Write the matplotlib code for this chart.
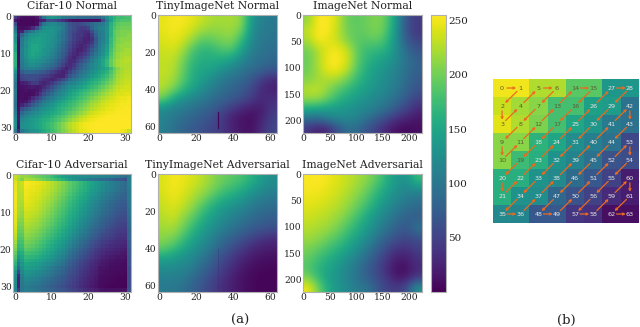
import matplotlib
matplotlib.use('Agg')
import matplotlib.pyplot as plt
import numpy as np

W, H = 640, 327

# --- 1. The Data (0-255) ---
cifar_normal = [
    [40,20,10,8,8,8,15,50,95,125,135,130,120,105,100,95,95,90,90,90,85,85,80,85,100,125,150,165,175,175,180,180],
    [15,8,5,5,5,5,8,20,25,60,60,55,45,35,25,15,10,10,10,10,10,10,10,12,60,110,145,170,180,185,185,185],
    [60,5,5,5,5,5,10,60,100,115,120,120,110,100,85,65,60,55,60,65,75,85,95,100,105,125,160,180,190,195,195,195],
    [90,10,8,10,15,30,60,100,125,130,130,125,120,105,85,70,60,50,45,45,55,80,100,110,115,130,165,185,195,200,200,200],
    [110,15,25,70,90,105,120,130,135,135,135,125,115,100,85,65,55,45,40,35,35,60,90,105,110,130,165,190,200,205,205,205],
    [130,20,80,110,125,130,135,140,140,135,130,125,110,95,80,65,50,40,40,30,25,45,80,100,110,130,165,190,200,205,205,210],
    [130,15,100,120,135,140,145,145,140,135,130,120,110,95,80,65,50,40,35,25,25,35,70,100,110,130,170,190,205,210,210,210],
    [140,10,105,125,140,145,145,145,140,135,125,120,105,90,75,60,45,35,30,25,30,40,75,100,115,135,170,195,205,210,215,215],
    [150,10,105,125,140,150,150,145,140,130,125,115,100,85,70,55,40,30,25,30,40,55,80,105,120,140,175,195,210,215,215,215],
    [150,10,110,130,145,150,150,145,135,130,120,110,95,80,65,50,35,25,25,35,50,70,90,110,125,145,180,200,210,215,220,220],
    [165,10,110,130,145,150,145,140,135,125,115,105,90,75,60,40,30,25,35,45,60,80,100,115,130,150,185,205,215,220,222,222],
    [165,12,110,125,140,145,140,135,125,120,110,100,85,70,50,35,25,35,45,60,75,95,110,125,140,160,190,205,215,222,225,225],
    [165,12,105,120,135,135,130,125,120,110,100,90,75,60,45,30,30,45,60,75,90,105,120,135,150,170,195,210,220,225,228,228],
    [165,12,100,115,125,125,120,115,105,100,90,80,65,50,35,30,40,60,75,90,105,115,125,135,150,170,195,210,220,225,225,225],
    [150,15,95,105,110,110,105,100,95,85,75,65,50,35,25,35,50,65,80,95,105,115,125,135,145,155,175,195,210,220,225,225],
    [130,15,75,85,85,85,80,75,70,60,50,40,30,25,30,50,65,80,95,105,115,125,135,145,155,165,185,200,215,222,228,228],
    [115,12,55,60,60,60,60,55,50,45,35,28,25,25,45,65,80,92,105,115,125,135,145,155,165,175,190,205,218,225,230,230],
    [110,10,50,55,60,60,55,45,35,30,25,30,40,55,70,90,100,110,118,128,138,148,158,165,175,185,198,210,222,228,232,232],
    [100,8,20,25,35,45,45,30,25,30,40,55,70,85,100,110,115,125,132,142,150,160,168,175,185,195,205,215,225,230,235,235],
    [100,8,12,15,18,20,18,20,30,45,60,75,90,105,115,125,130,138,145,155,162,170,178,188,195,205,215,225,230,235,238,238],
    [105,5,10,12,10,12,15,25,45,60,75,90,105,115,125,135,145,152,160,168,175,182,190,198,205,215,222,230,235,240,240,240],
    [105,5,10,8,8,10,20,40,60,75,90,105,115,125,135,145,155,162,170,178,185,192,200,208,215,222,230,235,240,242,245,245],
    [100,5,10,8,15,30,45,60,80,95,105,115,125,135,145,155,162,170,178,186,194,202,210,217,224,230,236,240,245,248,248,250],
    [95,8,12,15,30,50,70,85,100,110,120,130,140,150,158,165,172,180,188,196,204,212,218,225,232,238,242,245,248,250,250,252],
    [95,8,25,40,55,75,90,105,115,125,132,142,152,160,166,172,180,188,196,204,212,220,226,232,238,242,246,248,250,252,252,252],
    [100,12,60,75,85,100,110,120,128,135,142,150,160,168,175,180,188,196,204,212,220,226,232,238,242,246,248,250,252,252,254,254],
    [110,15,85,100,110,118,125,132,140,146,152,158,165,175,182,190,198,206,214,222,230,236,240,244,248,250,252,252,254,254,254,254],
    [118,18,105,115,125,130,135,142,150,155,162,170,178,186,194,202,210,218,226,234,240,244,248,250,252,254,254,255,255,255,255,255],
    [125,18,118,125,132,138,145,150,158,163,170,178,186,195,204,212,220,228,236,242,246,250,252,254,254,255,255,255,255,255,255,255],
    [130,15,125,130,135,140,148,155,162,170,178,188,198,208,218,226,234,240,246,250,252,254,255,255,255,255,255,255,255,255,255,255],
    [125,12,125,130,135,140,148,155,162,170,178,188,198,208,218,226,234,240,246,250,252,254,255,255,255,255,255,255,255,255,255,255],
    [105,30,100,115,125,130,135,145,155,165,175,185,195,205,212,222,230,238,245,248,250,252,254,255,255,255,255,255,255,250,245,235],
]
cifar_adv = [
    [235,225,215,215,210,205,200,195,190,185,175,165,155,145,140,135,130,128,125,125,122,120,118,116,115,112,110,108,105,95,90,105],
    [235,220,205,225,222,218,210,205,200,192,185,178,170,162,150,140,130,125,118,112,105,100,95,92,90,85,80,75,70,68,60,110],
    [245,228,235,254,252,250,248,245,240,235,228,222,215,208,200,192,185,178,170,162,155,148,140,132,125,118,110,105,100,95,90,110],
    [248,228,232,252,250,248,245,242,238,232,226,220,212,205,198,190,182,175,168,160,152,145,138,130,122,115,110,104,98,92,88,110],
    [248,226,230,250,248,246,243,240,235,230,224,218,210,203,196,188,180,172,165,158,150,142,135,128,120,112,107,101,95,90,86,105],
    [250,226,228,250,247,244,241,237,232,227,221,214,206,199,191,183,175,167,160,152,144,136,129,122,114,107,101,95,90,85,82,105],
    [250,225,226,248,245,242,238,234,229,223,217,210,202,194,186,178,170,162,155,147,139,131,124,116,108,101,95,90,85,80,78,105],
    [250,225,224,246,243,240,236,232,226,220,214,206,198,190,182,174,166,158,150,142,134,126,118,110,103,96,90,85,80,76,74,100],
    [250,224,222,244,241,238,234,229,223,217,210,202,194,186,178,170,162,154,146,138,130,122,114,106,98,92,86,81,76,72,70,100],
    [248,222,218,240,238,235,231,226,220,213,206,198,190,182,174,166,158,150,142,134,126,118,110,102,94,88,82,77,72,68,66,95],
    [248,220,214,236,234,231,227,222,216,209,202,194,186,178,170,162,154,146,138,130,122,114,106,98,90,84,78,73,68,64,62,95],
    [246,216,212,234,232,228,224,218,212,205,198,190,182,174,166,158,150,142,133,125,117,109,101,93,86,80,74,69,64,60,58,90],
    [245,210,208,230,228,224,220,214,208,201,194,186,178,170,162,154,146,137,128,120,112,104,96,88,81,75,69,64,59,56,54,90],
    [245,205,204,226,224,220,216,210,204,197,190,182,174,166,158,150,141,132,123,115,107,99,91,83,76,70,64,59,54,52,50,85],
    [240,200,200,222,220,216,212,206,200,192,185,177,169,161,153,145,136,127,118,110,102,94,86,78,71,65,59,54,50,48,46,85],
    [238,195,196,218,216,212,207,201,195,187,180,172,164,156,148,140,130,121,112,104,96,88,80,72,65,59,54,50,46,44,42,80],
    [232,190,190,213,210,206,201,195,189,181,174,166,158,150,142,134,124,115,106,98,90,82,74,66,59,54,49,45,41,39,38,80],
    [228,185,185,208,205,201,196,190,183,175,168,160,152,144,136,127,117,108,99,91,83,75,67,59,53,48,44,40,37,35,34,80],
    [220,178,180,203,200,196,190,184,177,169,162,154,146,138,129,120,110,101,92,84,76,68,60,52,47,42,38,35,32,30,29,75],
    [212,170,175,197,194,190,184,178,171,163,156,148,140,132,122,113,103,94,85,77,69,61,53,46,41,36,33,30,28,26,25,75],
    [205,165,168,190,187,183,178,172,165,157,150,142,134,125,116,106,96,87,78,70,62,54,47,40,35,30,28,26,24,22,20,70],
    [195,150,158,180,178,174,170,164,157,150,143,135,127,118,108,98,88,79,71,63,55,48,41,34,30,26,23,21,19,17,16,70],
    [185,135,150,170,168,165,161,155,149,142,135,127,119,110,100,90,81,72,64,56,49,42,36,30,25,21,18,16,14,13,12,65],
    [175,120,142,160,158,155,151,146,140,133,126,118,110,101,92,83,74,66,58,50,44,37,31,25,20,17,14,12,11,10,9,65],
    [165,105,135,150,148,145,141,136,130,124,116,109,101,93,84,76,68,60,52,45,39,33,27,21,17,14,11,10,9,8,7,65],
    [150,85,125,145,142,138,133,128,122,115,105,98,92,85,77,70,62,55,47,40,35,29,24,15,13,11,9,8,8,7,6,60],
    [135,55,118,135,132,128,124,119,114,108,100,93,87,80,72,65,58,51,43,37,32,26,21,13,11,9,8,7,6,6,5,60],
    [128,30,110,128,125,121,117,112,107,101,95,88,82,75,68,61,54,47,40,34,29,24,19,11,9,8,7,6,5,5,4,60],
    [125,25,105,120,117,113,109,104,99,94,88,82,76,70,64,57,50,44,37,31,26,22,17,10,8,7,6,5,4,4,3,60],
    [125,25,102,112,110,106,102,98,93,88,82,77,71,65,59,53,47,41,35,29,24,20,15,9,7,6,5,4,3,3,3,60],
    [120,25,100,105,103,99,95,91,87,82,75,71,66,60,55,50,44,38,32,27,22,18,14,8,6,5,4,3,3,3,2,60],
    [115,40,100,110,106,102,98,94,90,86,80,75,70,65,60,55,50,44,38,33,28,24,20,15,12,10,10,10,10,10,10,65],
]
tiny_normal = [
    [245,252,252,245,232,222,220,222,212,130,112,105],
    [245,252,248,235,218,212,215,218,200,125,108,100],
    [240,248,238,215,190,195,205,208,170,118,102,98],
    [235,240,222,185,165,170,185,185,145,110,98,92],
    [230,232,205,170,158,158,155,145,120,100,92,85],
    [232,228,198,160,150,145,130,115,100,90,82,72],
    [230,222,190,158,142,125,105,95,85,70,45,30],
    [225,205,172,145,125,108,92,82,72,55,28,22],
    [200,155,130,118,105,92,82,72,60,45,30,35],
    [125,112,105,95,85,75,60,42,28,18,18,42],
    [115,102,92,82,72,60,42,20,12,8,25,50],
    [112,95,82,72,62,52,42,25,15,10,35,55],
]
tiny_adv = [
    [240,252,248,240,228,212,198,190,180,160,140,125],
    [240,252,245,232,220,205,185,172,158,140,125,115],
    [235,248,238,222,205,180,160,148,135,118,105,100],
    [230,242,228,210,180,155,138,125,115,102,92,88],
    [225,235,212,190,160,142,125,110,100,88,80,75],
    [218,222,200,170,145,128,110,98,85,75,68,62],
    [210,205,180,150,130,112,92,78,65,52,40,32],
    [195,178,155,135,118,98,78,60,45,30,22,20],
    [150,142,130,120,100,80,60,42,28,18,12,10],
    [125,122,118,105,88,68,48,32,18,10,6,5],
    [110,112,105,90,72,55,38,22,12,6,3,3],
    [105,102,95,80,65,48,32,22,12,6,3,5],
]
imagenet_normal = [
    [210,255,255,235,195,190,198,208,190,130,60,45],
    [230,255,255,232,198,192,198,208,185,125,60,40],
    [222,255,245,232,205,188,190,195,172,122,70,50],
    [200,225,245,252,232,190,172,170,158,122,85,65],
    [195,222,252,255,240,192,165,152,140,120,95,78],
    [198,222,248,252,228,185,155,140,128,112,92,78],
    [205,218,225,222,200,170,150,135,122,108,88,72],
    [228,232,212,190,172,155,140,128,118,102,82,65],
    [215,218,195,170,152,138,128,118,105,90,70,50],
    [160,152,145,138,132,125,115,105,90,70,50,30],
    [95,90,110,122,122,112,95,75,55,35,25,15],
    [40,22,28,65,92,88,65,45,25,10,5,10],
]
imagenet_adv = [
    [252,255,250,242,232,222,210,190,160,135,130,175],
    [252,252,245,238,228,215,198,172,148,128,118,125],
    [248,245,240,232,220,205,185,158,135,118,105,98],
    [242,238,232,225,212,192,168,142,122,105,92,85],
    [235,230,225,215,198,175,150,128,108,90,78,75],
    [228,222,215,202,182,160,138,115,95,78,68,100],
    [218,212,200,185,165,145,122,98,78,62,55,62],
    [205,195,180,165,148,128,105,80,58,38,38,50],
    [195,178,162,148,130,110,88,65,42,22,22,38],
    [185,165,150,135,118,98,76,55,30,8,12,32],
    [205,172,145,130,115,95,75,58,38,15,18,40],
    [250,205,155,135,120,105,100,68,52,42,62,130],
]
titles = ['Cifar-10 Normal', 'TinyImageNet Normal', 'ImageNet Normal',
          'Cifar-10 Adversarial', 'TinyImageNet Adversarial', 'ImageNet Adversarial']
panels = [cifar_normal, tiny_normal, imagenet_normal, cifar_adv, tiny_adv, imagenet_adv]
sizes = [32, 64, 224, 32, 64, 224]
panel_ticks = [[0, 10, 20, 30], [0, 20, 40, 60], [0, 50, 100, 150, 200]] * 2
cbar_ticks = [50, 100, 150, 200, 250]

# dark column that shows through the TinyImageNet maps (col, first row, last row)
tiny_seam = [32, 52, 61]
tiny_seam_faint = [32, 40, 62]

# panel (b): zigzag scan order over 8x8 blocks
zigzag = [
    [0, 1, 5, 6, 14, 15, 27, 28],
    [2, 4, 7, 13, 16, 26, 29, 42],
    [3, 8, 12, 17, 25, 30, 41, 43],
    [9, 11, 18, 24, 31, 40, 44, 53],
    [10, 19, 23, 32, 39, 45, 52, 54],
    [20, 22, 33, 38, 46, 51, 55, 60],
    [21, 34, 37, 47, 50, 56, 59, 61],
    [35, 36, 48, 49, 57, 58, 62, 63],
]
block_vals = [
    [250, 250, 225, 225, 190, 190, 135, 135],
    [235, 220, 210, 180, 180, 145, 140, 95],
    [245, 225, 205, 180, 150, 135, 105, 95],
    [210, 210, 165, 150, 125, 110, 95, 55],
    [210, 175, 160, 130, 115, 95, 65, 60],
    [160, 160, 130, 120, 90, 70, 50, 20],
    [160, 130, 125, 85, 65, 50, 30, 20],
    [120, 115, 70, 70, 40, 35, 10, 10],
]


def px_axes(left, top, right, bottom):
    return fig.add_axes([left / W, 1 - bottom / H, (right - left) / W, (bottom - top) / H])


plt.rcParams['font.family'] = 'DejaVu Serif'
fig = plt.figure(figsize=(W / 100, H / 100), dpi=100)

# --- 2. Heatmaps ---
col_x = [(13, 131), (158, 277), (303, 422)]
row_y = [(15, 133), (174, 292)]
im = None
for i, data in enumerate(panels):
    left, right = col_x[i % 3]
    top, bottom = row_y[i // 3]
    ax = px_axes(left, top, right, bottom)
    n = sizes[i]
    interp = 'nearest' if n == 32 else 'bicubic'
    im = ax.imshow(data, cmap='viridis', vmin=0, vmax=255, interpolation=interp,
                   extent=(-0.5, n - 0.5, n - 0.5, -0.5), aspect='auto')
    ax.set_title(titles[i], fontsize=7.8, pad=4.5, color='#222222')
    ax.set_xticks(panel_ticks[i])
    ax.set_yticks(panel_ticks[i])
    ax.tick_params(length=0, pad=1, labelsize=6.6, labelcolor='#222222')
    for s in ax.spines.values():
        s.set_color('#b0b0b0')
        s.set_linewidth(0.8)
    if i == 1:
        ax.plot([tiny_seam[0]] * 2, tiny_seam[1:], color='#440154', lw=0.9, alpha=0.9)
    if i == 4:
        ax.plot([tiny_seam_faint[0]] * 2, tiny_seam_faint[1:], color='#3b2a7a', lw=0.5, alpha=0.5)

cax = px_axes(431, 15, 446, 292)
cb = fig.colorbar(im, cax=cax, ticks=cbar_ticks)
cb.ax.tick_params(length=0, pad=1.5, labelsize=7.5, labelcolor='#222222')
cb.outline.set_edgecolor('#b0b0b0')
cb.outline.set_linewidth(0.8)

# --- 3. Zigzag block panel ---
axb = px_axes(493, 79, 639, 223)
axb.imshow(block_vals, cmap='viridis', vmin=0, vmax=255, aspect='auto', interpolation='nearest')
axb.set_axis_off()

where = {}
for r, row in enumerate(zigzag):
    for c, label in enumerate(row):
        where[label] = (c, r)
        txt_color = '#5a5a30' if block_vals[r][c] > 170 else '#e8e8e8'
        axb.text(c, r, str(label), ha='center', va='center', fontsize=4.6,
                 color=txt_color, family='DejaVu Sans')
for k in range(63):
    axb.annotate('', xy=where[k + 1], xytext=where[k],
                 arrowprops=dict(arrowstyle='->', color='#ec6a1e', lw=0.9, shrinkA=3.5, shrinkB=3,
                                 mutation_scale=3.5))

# --- 4. Sub-captions ---
fig.text(240 / W, 1 - 320 / H, '(a)', ha='center', va='center', fontsize=9.5, color='#222222')
fig.text(566 / W, 1 - 320 / H, '(b)', ha='center', va='center', fontsize=9.5, color='#222222')

fig.savefig('out.png', dpi=100)
